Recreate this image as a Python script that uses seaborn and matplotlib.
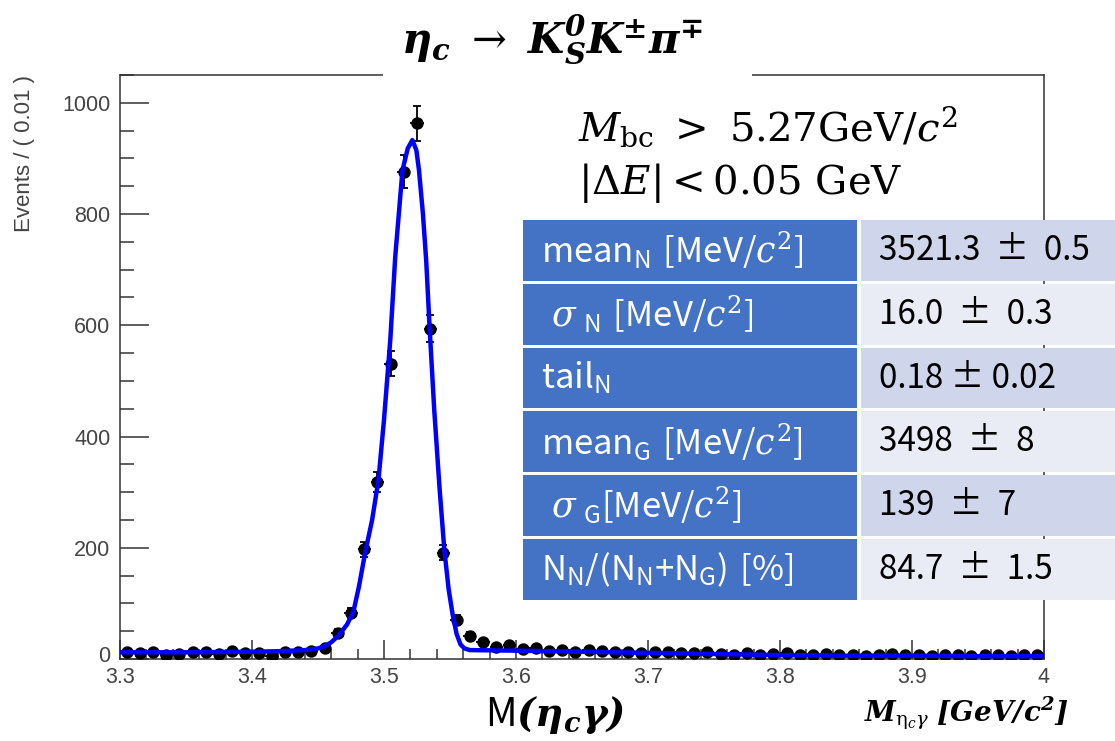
import numpy as np
import pandas as pd
import matplotlib
matplotlib.use("Agg")
import matplotlib.pyplot as plt
import matplotlib.transforms as mtransforms
import seaborn as sns
from matplotlib.patches import Rectangle
from matplotlib.ticker import MultipleLocator, FixedLocator, FixedFormatter

# ---------------- data ----------------
bin_lo = 3.30
bin_width = 0.01
counts = [13, 10, 12, 7, 9, 12, 13, 9, 14, 10,
          10, 5, 13, 12, 14, 20, 47, 82, 197, 318,
          531, 876, 963, 594, 191, 70, 42, 30, 22, 26,
          18, 20, 15, 16, 13, 16, 15, 12, 13, 11,
          12, 13, 10, 11, 12, 9, 8, 10, 8, 9,
          10, 7, 8, 9, 7, 8, 6, 8, 9, 7,
          8, 6, 8, 7, 6, 7, 8, 6, 7, 7]

curve_x = [3.300, 3.350, 3.400, 3.420, 3.440, 3.450, 3.455, 3.460, 3.4655, 3.472,
           3.4768, 3.481, 3.4858, 3.491, 3.4958, 3.500, 3.5048, 3.5085, 3.514, 3.518,
           3.5215, 3.5245, 3.5265, 3.5295, 3.532, 3.5345, 3.538, 3.542, 3.5457, 3.549,
           3.552, 3.555, 3.558, 3.561, 3.565, 3.600, 3.650, 3.700, 3.750, 3.800,
           3.850, 3.900, 3.950, 4.000]
curve_y = [12, 12, 13, 14, 16, 19, 23, 30, 42, 62,
           85, 130, 192, 250, 322, 430, 575, 723, 879, 918,
           933, 915, 879, 800, 715, 598, 450, 310, 196, 125,
           80, 45, 26, 19, 16, 15, 13, 11, 9, 7,
           6, 6, 5, 5]

x_ticks = [3.3, 3.4, 3.5, 3.6, 3.7, 3.8, 3.9, 4.0]
x_tick_labels = ["3.3", "3.4", "3.5", "3.6", "3.7", "3.8", "3.9", "4"]
y_ticks = [0, 200, 400, 600, 800, 1000]
y_tick_labels = ["0", "200", "400", "600", "800", "1000"]

y_axis_label = "Events / ( 0.01 )"
title_text = r"$\mathbf{\eta_c}\ \rightarrow\ \mathbf{K^{0}_S K^{\pm}\pi^{\mp}}$"
cut_lines = [r"$M_{\mathrm{bc}}\ >\ 5.27\mathrm{GeV}/c^{2}$",
             r"$|\Delta E| < 0.05\ \mathrm{GeV}$"]
xlabel_main = r"$\mathsf{M}\mathbf{(\eta_c\gamma)}$"
xlabel_unit = r"$\mathbf{M}_{\mathrm{\eta}_c\gamma}\ \mathbf{[GeV/c^{2}]}$"

row_labels = [r"$\mathsf{mean}_{\mathsf{N}}\ \mathsf{[MeV/}c^{2}\mathsf{]}$",
              r"$\ \sigma_{\ \mathsf{N}}\ \mathsf{[MeV/}c^{2}\mathsf{]}$",
              r"$\mathsf{tail}_{\mathsf{N}}$",
              r"$\mathsf{mean}_{\mathsf{G}}\ \mathsf{[MeV/}c^{2}\mathsf{]}$",
              r"$\ \sigma_{\ \mathsf{G}}\mathsf{[MeV/}c^{2}\mathsf{]}$",
              r"$\mathsf{N}_{\mathsf{N}}\mathsf{/(N}_{\mathsf{N}}\mathsf{+N}_{\mathsf{G}}\mathsf{)\ [\%]}$"]
row_values = ["3521.3  ±  0.5", "16.0  ±  0.3", "0.18 ± 0.02",
              "3498  ±  8", "139  ±  7", "84.7  ±  1.5"]

# ---------------- style ----------------
sns.set_theme(style="ticks")
plt.rcParams.update({
    "font.family": ["Liberation Sans", "DejaVu Sans"],
    "mathtext.fontset": "custom",
    "mathtext.rm": "DejaVu Serif",
    "mathtext.it": "DejaVu Serif:italic",
    "mathtext.bf": "DejaVu Serif:italic:bold",
    "mathtext.sf": "Noto Sans CJK JP",
    "axes.edgecolor": "#333333",
    "axes.linewidth": 1.1,
})

W, H = 1115, 741
fig = plt.figure(figsize=(W / 100, H / 100), dpi=100)
fig.patch.set_facecolor("white")


def fx(x):
    return x / W


def fy(y):
    return 1 - y / H


ax_l, ax_r, ax_t, ax_b = 120, 1044, 75, 659
ax = fig.add_axes([fx(ax_l), fy(ax_b), (ax_r - ax_l) / W, (ax_b - ax_t) / H])
ax.set_facecolor("white")

centers = [bin_lo + bin_width * (i + 0.5) for i in range(len(counts))]
df = pd.DataFrame({"mass": centers, "events": counts})
df["err"] = np.sqrt(df["events"])
curve_df = pd.DataFrame({"mass": curve_x, "pdf": curve_y})

# error bars
ax.errorbar(df["mass"], df["events"], yerr=df["err"], fmt="none",
            ecolor="black", elinewidth=1.3, capsize=3, capthick=1.3, zorder=2)
ax.errorbar(df["mass"], df["events"], xerr=bin_width / 2, fmt="none",
            ecolor="black", elinewidth=1.3, capsize=0, zorder=2)
sns.scatterplot(data=df, x="mass", y="events", color="black", s=80,
                edgecolor="black", linewidth=0, zorder=3, ax=ax, legend=False)
sns.lineplot(data=curve_df, x="mass", y="pdf", color="#0000ff", linewidth=3.2,
             zorder=4, ax=ax, legend=False, estimator=None)

ax.set_xlim(3.3, 4.0)
ax.set_ylim(0, 1050)
ax.set_xlabel("")
ax.set_ylabel("")
ax.xaxis.set_major_locator(FixedLocator(x_ticks))
ax.xaxis.set_major_formatter(FixedFormatter(x_tick_labels))
ax.xaxis.set_minor_locator(MultipleLocator(0.02))
ax.yaxis.set_major_locator(FixedLocator(y_ticks))
ax.yaxis.set_major_formatter(FixedFormatter(y_tick_labels))
ax.yaxis.set_minor_locator(MultipleLocator(50))
ax.tick_params(which="both", direction="in", colors="#333333", width=1.1,
               labelsize=15.5, labelcolor="#444444")
ax.tick_params(axis="x", which="major", length=13.5, pad=6)
ax.tick_params(axis="x", which="minor", length=7)
ax.tick_params(axis="y", which="major", length=21, pad=7)
ax.tick_params(axis="y", which="minor", length=10)
for s in ["top", "right", "left", "bottom"]:
    ax.spines[s].set_visible(True)

# lift the "0" label slightly so it just touches the "3.3" label (ROOT look)
zero_shift = mtransforms.ScaledTranslation(0, 5 / 100, fig.dpi_scale_trans)
for lbl in ax.get_yticklabels():
    if lbl.get_text() == "0":
        lbl.set_transform(lbl.get_transform() + zero_shift)

# y-axis label (ROOT style: top aligned)
fig.text(fx(25), fy(75), y_axis_label, rotation=90, ha="center", va="top",
         fontsize=16, color="#444444")

# title with white box
fig.add_artist(Rectangle((fx(383), fy(86)), (752 - 383) / W, 40 / H,
                         transform=fig.transFigure, facecolor="white",
                         edgecolor="none", zorder=5))
fig.text(fx(552), fy(40), title_text, ha="center", va="center",
         fontsize=30, color="black", zorder=6)

# cut text
fig.text(fx(578), fy(127), cut_lines[0], ha="left", va="center",
         fontsize=29, color="black", zorder=6)
fig.text(fx(578), fy(183), cut_lines[1], ha="left", va="center",
         fontsize=29, color="black", zorder=6)

# parameter table
tab_top, row_h, gap = 220, 63.8, 3
lc_l, lc_r, rc_l, rc_r = 523, 857, 861, 1120
val_colors = ["#CFD5EA", "#E9EBF5"]
for i, (lab, val) in enumerate(zip(row_labels, row_values)):
    y0 = tab_top + i * row_h
    y1 = y0 + row_h - gap
    fig.add_artist(Rectangle((fx(lc_l), fy(y1)), (lc_r - lc_l) / W, (y1 - y0) / H,
                             transform=fig.transFigure, facecolor="#4472C4",
                             edgecolor="none", zorder=5))
    fig.add_artist(Rectangle((fx(rc_l), fy(y1)), (rc_r - rc_l) / W, (y1 - y0) / H,
                             transform=fig.transFigure, facecolor=val_colors[i % 2],
                             edgecolor="none", zorder=5))
    yc = (y0 + y1) / 2
    fig.text(fx(541), fy(yc), lab, ha="left", va="center", fontsize=25,
             color="white", zorder=6)
    fig.text(fx(879), fy(yc), val, ha="left", va="center", fontsize=24,
             color="black", family=["Noto Sans CJK JP", "DejaVu Sans"], zorder=6)

# bottom labels
fig.text(fx(555), fy(715), xlabel_main, ha="center", va="center",
         fontsize=28, color="black")
fig.text(fx(966), fy(713), xlabel_unit, ha="center", va="center",
         fontsize=20, color="black")

fig.savefig("out.png", dpi=100)
